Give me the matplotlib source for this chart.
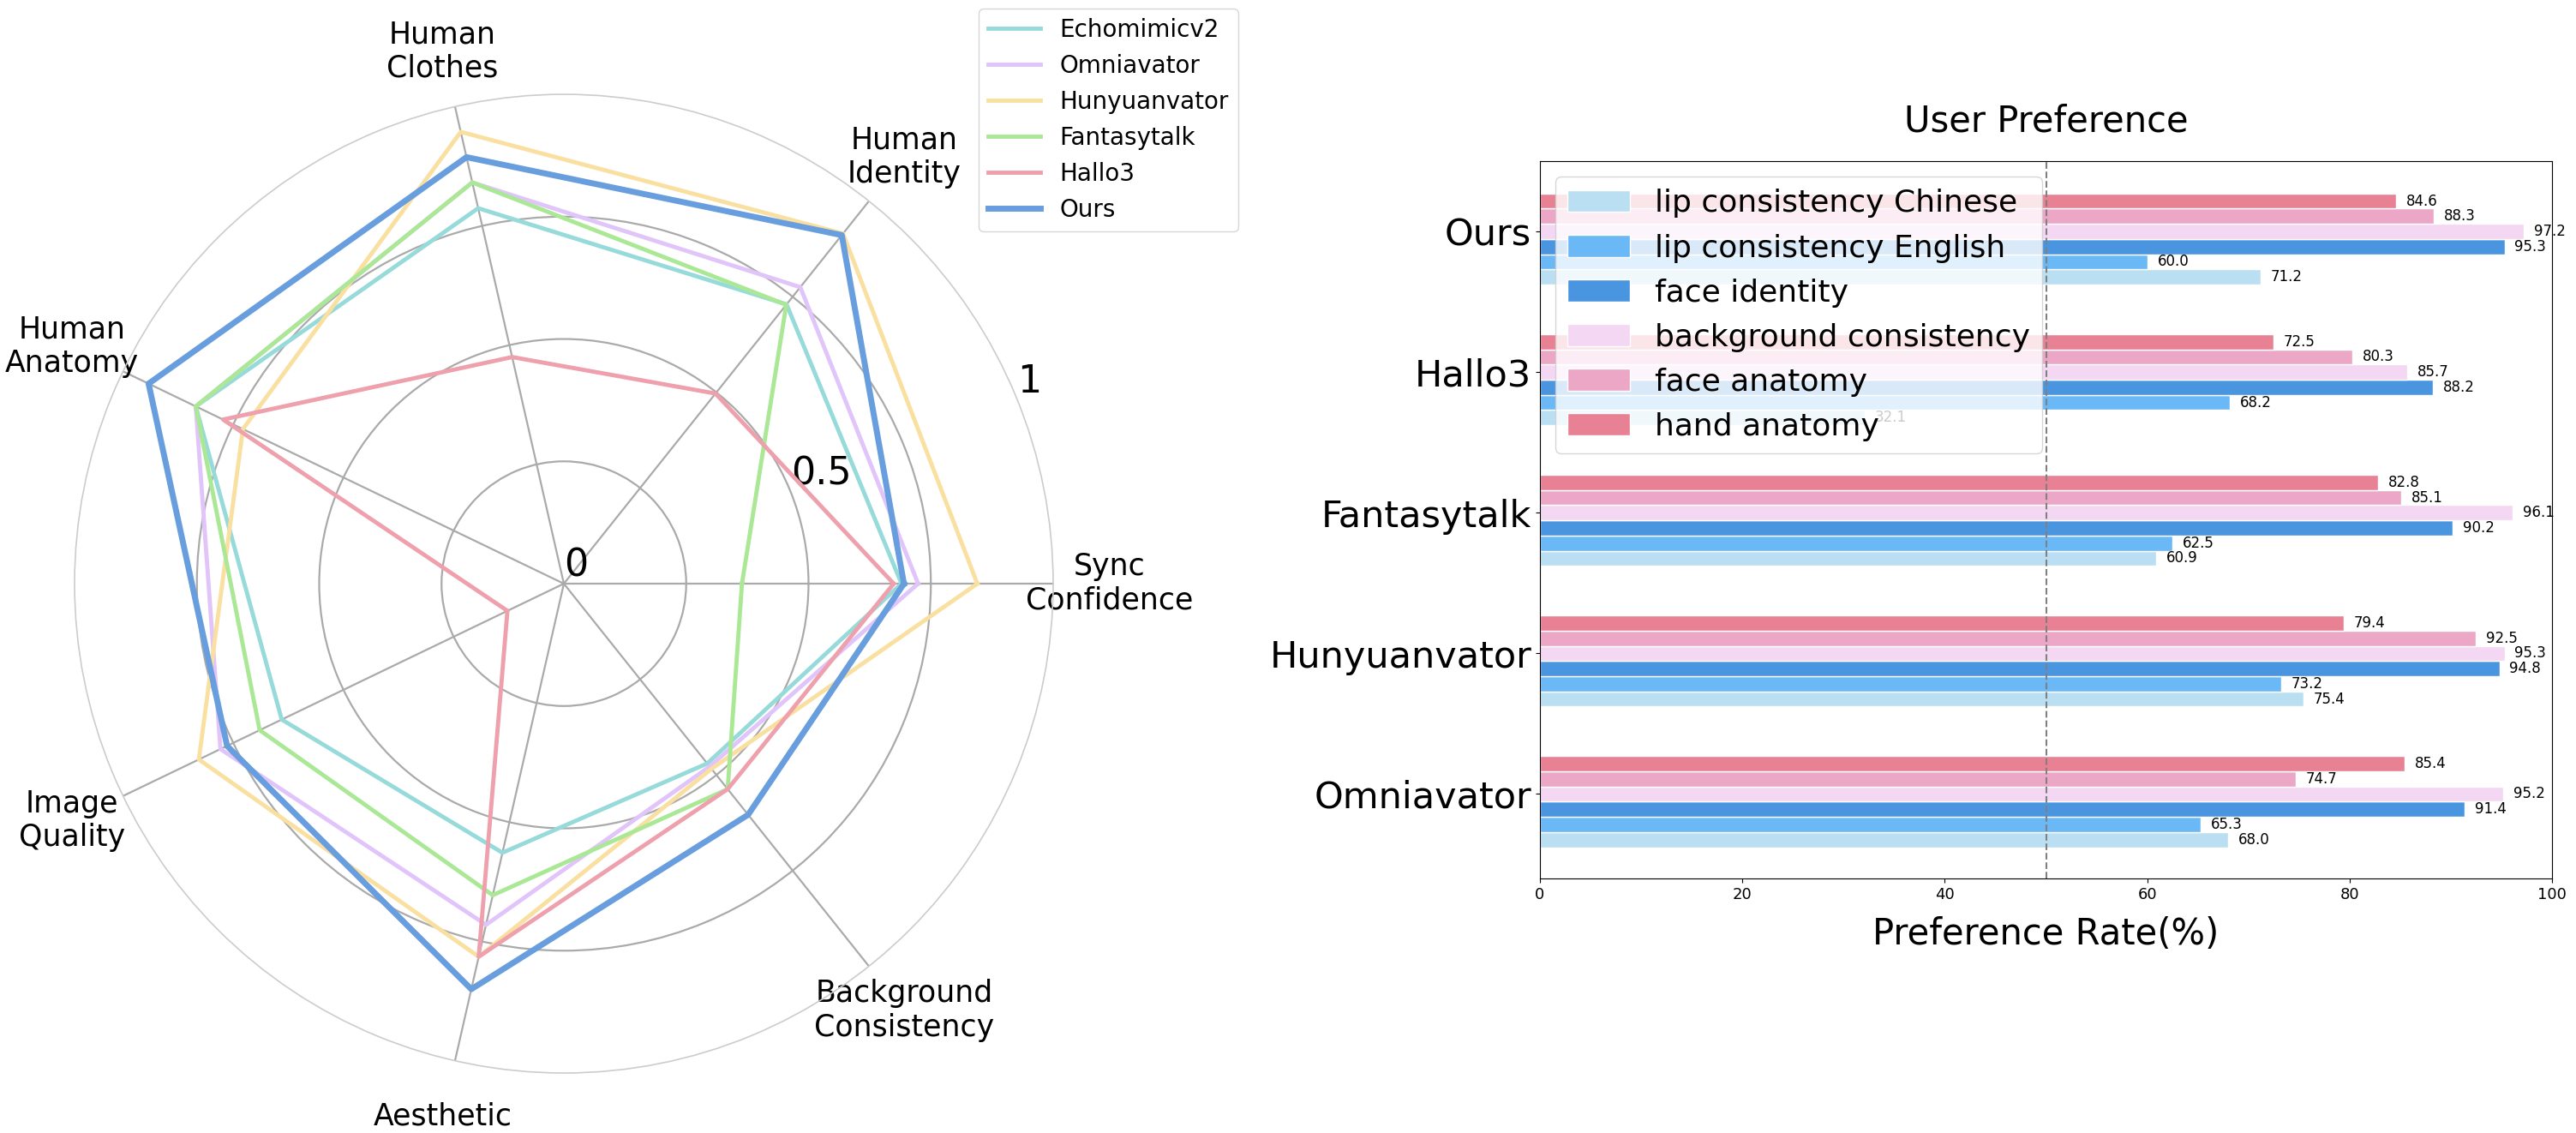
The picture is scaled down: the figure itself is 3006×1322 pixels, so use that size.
import matplotlib
matplotlib.use("Agg")
import matplotlib.pyplot as plt
import numpy as np

# ---------------- radar data ----------------
radar_axes = ["Sync\nConfidence", "Human\nIdentity", "Human\nClothes", "Human\nAnatomy",
              "Image\nQuality", "Aesthetic", "Background\nConsistency"]
radar_models = ["Echomimicv2", "Omniavator", "Hunyuanvator", "Fantasytalk", "Hallo3", "Ours"]
echomimic = [0.69, 0.73, 0.787, 0.835, 0.64, 0.564, 0.47]
omniavator = [0.724, 0.775, 0.841, 0.835, 0.779, 0.715, 0.478]
hunyuanvator = [0.845, 0.915, 0.947, 0.728, 0.828, 0.782, 0.484]
fantasytalk = [0.364, 0.729, 0.841, 0.835, 0.69, 0.653, 0.537]
hallo3 = [0.674, 0.497, 0.475, 0.773, 0.128, 0.782, 0.537]
ours = [0.695, 0.911, 0.894, 0.942, 0.764, 0.85, 0.604]
radar_colors = ["#96DADA", "#E0C4FA", "#FAE0A0", "#AAE896", "#EEA0AC", "#689EDE"]

# ---------------- bar data ----------------
bar_models = ["Omniavator", "Hunyuanvator", "Fantasytalk", "Hallo3", "Ours"]
metrics = ["lip consistency Chinese", "lip consistency English", "face identity",
           "background consistency", "face anatomy", "hand anatomy"]
lip_cn = [68.0, 75.4, 60.9, 32.1, 71.2]
lip_en = [65.3, 73.2, 62.5, 68.2, 60.0]
face_id = [91.4, 94.8, 90.2, 88.2, 95.3]
background = [95.2, 95.3, 96.1, 85.7, 97.2]
face_anat = [74.7, 92.5, 85.1, 80.3, 88.3]
hand_anat = [85.4, 79.4, 82.8, 72.5, 84.6]
bar_colors = ["#BBDFF2", "#6AB8F5", "#4A95E0", "#F3D7F3", "#ECA7C7", "#E88194"]

fig = plt.figure(figsize=(30.06, 13.22), dpi=100)

# ---------------- radar ----------------
ax = fig.add_axes([0.02894, 0.05295, 0.3799, 0.8638], projection="polar")
n = len(radar_axes)
angles = np.linspace(0, 2 * np.pi, n, endpoint=False)
ang = np.concatenate([angles, angles[:1]])

series = [echomimic, omniavator, hunyuanvator, fantasytalk, hallo3, ours]
for name, vals, c in zip(radar_models, series, radar_colors):
    v = np.concatenate([vals, vals[:1]])
    lw = 5 if name == "Ours" else 3.5
    ax.plot(ang, v, color=c, lw=lw, label=name)

ax.set_ylim(0, 1)
ax.set_xticks(angles)
ax.set_xticklabels(radar_axes, fontsize=25)
ax.tick_params(axis="x", pad=37)
ax.set_yticks([0, 0.25, 0.5, 0.75, 1.0])
ax.set_yticklabels(["0", "", "0.5", "", "1"], fontsize=32)
ax.set_rlabel_position(22)
ax.grid(True, color="#aaaaaa", lw=1.6)
ax.yaxis.get_major_ticks()[-1].gridline.set_visible(False)
ax.spines["polar"].set_color("#cccccc")
ax.spines["polar"].set_linewidth(1.2)

ax.legend(loc="upper right", bbox_to_anchor=(1445 / 3006, 1 - 10 / 1322),
          bbox_transform=fig.transFigure, borderaxespad=0, fontsize=20,
          handlelength=2.2, framealpha=0.8, edgecolor="#cccccc")

# ---------------- bars ----------------
bx = fig.add_axes([0.5978, 0.2247, 0.3929, 0.6331])
y = np.arange(len(bar_models))
h = 0.108
bar_vals = [lip_cn, lip_en, face_id, background, face_anat, hand_anat]
for i, (lab, vals, c) in enumerate(zip(metrics, bar_vals, bar_colors)):
    pos = y + (i - 3) * h
    bx.barh(pos, vals, height=h, color=c, edgecolor="white", lw=1, label=lab)
    for p, v in zip(pos, vals):
        bx.text(v + 1, p, f"{v:.1f}", va="center", ha="left", fontsize=12)

bx.axvline(50, color="gray", ls="--", lw=1.5)
bx.set_xlim(0, 100)
bx.set_ylim(-0.6, 4.5)
bx.set_yticks(y)
bx.set_yticklabels(bar_models, fontsize=31)
bx.tick_params(axis="x", labelsize=13)
bx.set_xlabel("Preference Rate(%)", fontsize=30, labelpad=12)
bx.set_title("User Preference", fontsize=30, pad=25)
bx.legend(loc="upper left", fontsize=26, framealpha=0.8, edgecolor="#cccccc")

fig.savefig("out.png", dpi=100)
